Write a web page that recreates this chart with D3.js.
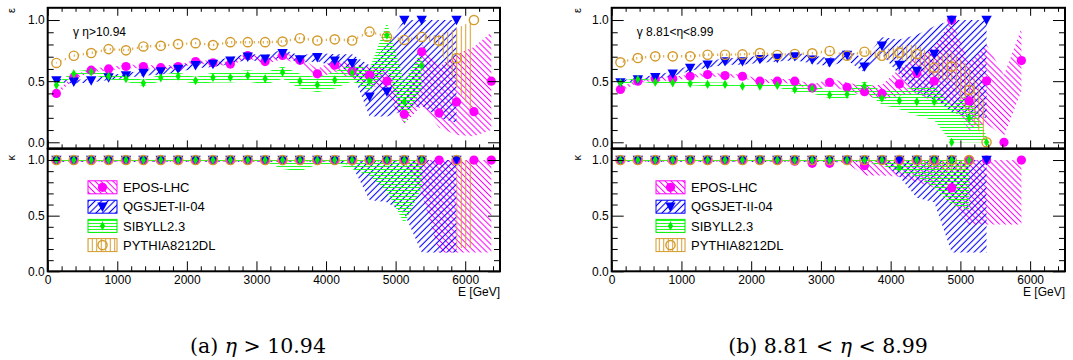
<!DOCTYPE html>
<html><head><meta charset="utf-8">
<script src="https://cdn.jsdelivr.net/npm/d3@7"></script>
<style>
body{margin:0;background:#fff;}
svg{display:block;}
</style>
</head><body>
<svg id="c" width="1073" height="360"></svg>
<script>
// ---------------- DATA ----------------
const energies = [125,375,625,875,1125,1375,1625,1875,2125,2375,2625,2875,3125,3375,3625,3875,4125,4375,4625,4875,5125,5375,5625,5875,6125,6375];
const models = ["EPOS-LHC","QGSJET-II-04","SIBYLL2.3","PYTHIA8212DL"];
const xTickValues = [0,1000,2000,3000,4000,5000,6000];
const xTickLabels = ["0","1000","2000","3000","4000","5000","6000"];
const yTickValues = [0,0.5,1.0];
const yTickLabels = ["0.0","0.5","1.0"];
const kappaTop = 1.0;

// panel (a): eta > 10.94  -- epsilon
const eposA    = [0.40,0.53,0.59,0.60,0.62,0.62,0.61,0.62,0.66,0.65,0.64,0.71,0.66,0.71,0.67,0.56,0.63,0.58,0.55,0.50,0.23,0.74,0.24,0.33,0.25,0.50];
const eposALo  = [0.385,0.515,0.575,0.585,0.605,0.605,0.595,0.605,0.645,0.635,0.625,0.69,0.64,0.68,0.64,0.52,0.58,0.52,0.48,0.40,0.15,0.30,0.12,0.06,0.05,0.10];
const eposAHi  = [0.415,0.545,0.605,0.615,0.635,0.635,0.625,0.635,0.675,0.665,0.655,0.73,0.68,0.73,0.70,0.60,0.68,0.64,0.62,0.60,0.32,0.80,0.62,0.72,0.78,0.90];
const qgsA     = [0.505,0.495,0.505,0.53,0.546,0.568,0.58,0.60,0.63,0.64,0.668,0.70,0.684,0.728,0.678,0.695,0.668,0.646,0.373,0.414,1.0,1.0,null,1.0,null,null];
const qgsALo   = [0.49,0.48,0.49,0.51,0.525,0.545,0.555,0.575,0.605,0.615,0.64,0.675,0.655,0.70,0.65,0.66,0.62,0.58,0.21,0.21,0.26,0.30,0.20,0.16,null,null];
const qgsAHi   = [0.52,0.51,0.52,0.55,0.565,0.59,0.605,0.625,0.655,0.665,0.695,0.725,0.71,0.76,0.71,0.73,0.72,0.72,0.63,0.80,1.0,1.0,1.0,1.0,null,null];
const sibA     = [0.468,0.56,0.576,0.54,0.52,0.484,0.527,0.54,0.505,0.53,0.53,0.546,0.52,0.572,0.501,0.469,0.51,0.569,0.501,0.877,0.332,0.627,null,null,null,null];
const sibALo   = [0.45,0.54,0.555,0.515,0.495,0.46,0.50,0.51,0.475,0.49,0.49,0.50,0.47,0.52,0.44,0.41,0.44,0.50,0.42,0.60,0.15,0.45,null,null,null,null];
const sibAHi   = [0.485,0.58,0.595,0.565,0.545,0.51,0.555,0.57,0.535,0.57,0.575,0.59,0.57,0.62,0.56,0.53,0.58,0.64,0.60,0.98,0.50,0.75,null,null,null,null];
const pytA     = [0.649,0.708,0.73,0.762,0.752,0.784,0.789,0.803,0.811,0.795,0.819,0.819,0.819,0.824,0.851,0.832,0.842,0.832,0.905,0.864,0.837,0.862,0.831,0.688,1.0,null];
const pytALo   = [0.64,0.70,0.72,0.752,0.742,0.774,0.779,0.793,0.801,0.785,0.809,0.809,0.809,0.814,0.841,0.822,0.832,0.822,0.895,0.854,0.827,0.852,0.78,0.45,0.22,null];
const pytAHi   = [0.659,0.718,0.74,0.772,0.762,0.794,0.799,0.813,0.821,0.805,0.829,0.829,0.829,0.834,0.861,0.842,0.852,0.842,0.915,0.874,0.847,0.872,0.88,0.93,1.0,null];
// panel (a) -- kappa
const eposAK   = [1,1,1,1,1,1,1,1,1,1,1,1,1,1,1,1,1,1,1,1,1,1,1,1,1,1];
const eposAKLo = [0.985,0.985,0.985,0.985,0.985,0.985,0.985,0.985,0.985,0.985,0.985,0.985,0.985,0.985,0.985,0.985,0.985,0.985,0.985,0.985,0.985,0.70,0.17,0.17,0.17,0.17];
const qgsAK    = [1,1,1,1,1,1,1,1,1,1,1,1,1,1,1,1,1,1,1,1,1,1,null,1,null,null];
const qgsAKLo  = [0.985,0.985,0.985,0.985,0.985,0.985,0.985,0.985,0.985,0.985,0.985,0.985,0.985,0.985,0.985,0.985,0.985,0.95,0.64,0.62,0.52,0.17,0.17,0.17,null,null];
const sibAK    = [1,1,1,1,1,1,1,1,1,1,1,1,1,1,1,1,1,1,1,1,1,1,null,null,null,null];
const sibAKLo  = [0.985,0.985,0.985,0.985,0.985,0.985,0.985,0.985,0.985,0.985,0.985,0.985,0.985,0.92,0.90,0.96,0.96,0.92,0.86,0.72,0.43,0.75,null,null,null,null];
const pytAK    = [1,1,1,1,1,1,1,1,1,1,1,1,1,1,1,1,1,1,1,1,1,1,null,1,null,null];
const pytAKLo  = [0.99,0.99,0.99,0.99,0.99,0.99,0.99,0.99,0.99,0.99,0.99,0.99,0.99,0.99,0.99,0.99,0.99,0.99,0.99,0.99,0.99,0.99,null,0.21,0.21,null];

// panel (b): 8.81 < eta < 8.99 -- epsilon
const eposB    = [0.432,0.50,0.519,0.519,0.54,0.554,0.546,0.54,0.50,0.50,0.50,0.445,0.49,0.45,0.414,0.40,0.477,0.564,0.501,1.0,0.338,0.501,0.0,0.668];
const eposBLo  = [0.417,0.485,0.504,0.504,0.525,0.539,0.531,0.525,0.485,0.485,0.48,0.42,0.46,0.42,0.38,0.35,0.38,0.40,0.33,0.30,0.10,0.15,0.05,0.42];
const eposBHi  = [0.447,0.515,0.534,0.534,0.555,0.569,0.561,0.555,0.515,0.515,0.52,0.47,0.52,0.49,0.46,0.47,0.60,0.70,0.78,1.0,0.65,0.80,0.55,0.93];
const qgsB     = [0.49,0.514,0.532,0.56,0.608,0.635,0.662,0.662,0.68,0.689,0.703,0.676,0.654,0.714,0.619,0.79,0.632,0.583,0.722,1.0,null,1.0,null,null];
const qgsBLo   = [0.475,0.50,0.515,0.54,0.585,0.61,0.635,0.635,0.65,0.66,0.67,0.645,0.62,0.67,0.57,0.72,0.55,0.40,0.35,0.25,0.20,0.20,null,null];
const qgsBHi   = [0.505,0.53,0.55,0.58,0.63,0.66,0.69,0.69,0.71,0.72,0.735,0.71,0.69,0.76,0.68,0.86,0.84,0.88,0.95,1.0,1.0,1.0,null,null];
const sibB     = [0.486,0.514,0.492,0.486,0.481,0.473,0.473,0.459,0.459,0.465,0.432,0.44,0.387,0.392,0.46,0.36,0.34,0.332,0.332,0.0,0.196,0.0,null,null];
const sibBLo   = [0.47,0.50,0.478,0.472,0.467,0.458,0.458,0.444,0.444,0.45,0.41,0.40,0.36,0.36,0.42,0.31,0.27,0.22,0.18,0.0,0.0,0.0,null,null];
const sibBHi   = [0.50,0.528,0.506,0.50,0.495,0.488,0.488,0.474,0.474,0.48,0.47,0.47,0.42,0.43,0.50,0.42,0.43,0.45,0.46,0.30,0.40,0.05,null,null];
const pytB     = [0.654,0.689,0.703,0.703,0.703,0.716,0.716,0.719,0.73,0.714,0.722,0.728,0.747,0.708,0.741,0.708,0.733,0.722,0.61,0.619,0.428,0.0,null,null];
const pytBLo   = [0.644,0.679,0.693,0.693,0.693,0.706,0.706,0.709,0.72,0.704,0.712,0.718,0.737,0.698,0.731,0.67,0.68,0.64,0.52,0.50,0.20,0.0,null,null];
const pytBHi   = [0.664,0.699,0.713,0.713,0.713,0.726,0.726,0.729,0.74,0.724,0.732,0.738,0.757,0.718,0.751,0.75,0.79,0.80,0.70,0.74,0.62,0.30,null,null];
// panel (b) -- kappa
const eposBK   = [1,1,1,1,1,1,1,1,1,1,0.99,0.97,0.97,1,0.95,1,1,1,1,0.75,1,1,null,1];
const eposBKLo = [0.985,0.985,0.985,0.985,0.985,0.985,0.985,0.985,0.985,0.985,0.985,0.985,0.985,0.97,0.86,0.86,0.85,0.80,0.75,0.60,0.42,0.42,0.42,0.42];
const qgsBK    = [1,1,1,1,1,1,1,1,1,1,1,1,1,1,1,1,1,1,1,1,null,1,null,null];
const qgsBKLo  = [0.985,0.985,0.985,0.985,0.985,0.985,0.985,0.985,0.985,0.985,0.985,0.985,0.985,0.985,0.985,0.985,0.85,0.66,0.62,0.17,0.17,0.17,null,null];
const sibBK    = [1,1,1,1,1,1,1,1,1,1,1,1,1,1,1,1,0.93,1,1,1,1,null,null,null];
const sibBKLo  = [0.985,0.985,0.985,0.985,0.985,0.985,0.985,0.985,0.985,0.985,0.985,0.985,0.985,0.985,0.985,0.95,0.90,0.85,0.75,0.60,0.55,null,null,null];
const pytBK    = [1,1,1,1,1,1,1,1,1,1,1,1,1,1,1,1,1,1,1,1,1,null,null,null];
const pytBKLo  = [0.99,0.99,0.99,0.99,0.99,0.99,0.99,0.99,0.99,0.99,0.99,0.99,0.99,0.99,0.99,0.99,0.99,0.99,0.92,0.90,0.90,null,null,null];

// ---------------- STYLE ----------------
const styles = [
  {color:"#ff00ff", pat:"hEPOS", marker:"circle"},
  {color:"#0000ff", pat:"hQGS",  marker:"tri"},
  {color:"#00ee00", pat:"hSIB",  marker:"diamond"},
  {color:"#d49a2a", pat:"hPYT",  marker:"ocircle"}
];
const SANS = "Liberation Sans";

const svg = d3.select("#c");
const defs = svg.append("defs");
function hatch(id, color, angle, spacing, w){
  const p = defs.append("pattern").attr("id",id).attr("patternUnits","userSpaceOnUse")
    .attr("width",spacing).attr("height",spacing).attr("patternTransform",`rotate(${angle})`);
  p.append("line").attr("x1",spacing/2).attr("x2",spacing/2).attr("y1",-1).attr("y2",spacing+1)
    .attr("stroke",color).attr("stroke-width",w);
}
hatch("hEPOS","#ff00ff",-45,4.2,1);
hatch("hQGS","#0000ff",45,4.6,1.1);
hatch("hSIB","#22ff22",90,3,1);
hatch("hPYT","#d49a2a",0,4.5,1);

function drawMarker(sel, type, color){
  if(type==="circle") sel.append("circle").attr("r",4.6).attr("fill",color);
  else if(type==="tri") sel.append("path").attr("d","M-5.2,-4.2L5.2,-4.2L0,5.2Z").attr("fill",color);
  else if(type==="diamond") sel.append("path").attr("d","M0,-4.6L2.6,0L0,4.6L-2.6,0Z").attr("fill",color);
  else sel.append("circle").attr("r",4.6).attr("fill","none").attr("stroke",color).attr("stroke-width",1.4);
}

const panels = [
  {id:"a", x0:47.7, x1:500, label:"γ η>10.94", labelX:73, legendX:88, titleX:15,
   eps:[[eposA,eposALo,eposAHi],[qgsA,qgsALo,qgsAHi],[sibA,sibALo,sibAHi],[pytA,pytALo,pytAHi]],
   kap:[[eposAK,eposAKLo],[qgsAK,qgsAKLo],[sibAK,sibAKLo],[pytAK,pytAKLo]],
   capX:258, cap:[["(a) ",false],["η",true],[" > 10.94",false]]},
  {id:"b", x0:611.7, x1:1065, label:"γ 8.81<η<8.99", labelX:636.7, legendX:656, titleX:581,
   eps:[[eposB,eposBLo,eposBHi],[qgsB,qgsBLo,qgsBHi],[sibB,sibBLo,sibBHi],[pytB,pytBLo,pytBHi]],
   kap:[[eposBK,eposBKLo],[qgsBK,qgsBKLo],[sibBK,sibBKLo],[pytBK,pytBKLo]],
   capX:828, cap:[["(b) 8.81 < ",false],["η",true],[" < 8.99",false]]}
];

const TOP = [148.4, 7.8], RAT = [271.3, 148.9];

panels.forEach(P => {
  const x = d3.scaleLinear().domain([0,6500]).range([P.x0,P.x1]);
  const yT = d3.scaleLinear().domain([-0.05,1.1]).range(TOP);
  const yR = d3.scaleLinear().domain([0,1.1]).range(RAT);
  const W = P.x1-P.x0;
  defs.append("clipPath").attr("id","ct"+P.id).append("rect")
    .attr("x",P.x0).attr("y",TOP[1]).attr("width",W).attr("height",TOP[0]-TOP[1]);
  defs.append("clipPath").attr("id","cr"+P.id).append("rect")
    .attr("x",P.x0).attr("y",RAT[1]).attr("width",W).attr("height",RAT[0]-RAT[1]);

  const gT = svg.append("g").attr("clip-path",`url(#ct${P.id})`);
  const gR = svg.append("g").attr("clip-path",`url(#cr${P.id})`);

  // bands
  P.eps.forEach((s,k) => {
    const pts = s[0].map((v,i)=>({e:energies[i], v, lo:s[1][i], hi:s[2][i]}));
    const area = d3.area().defined(d=>d.lo!=null && d.hi!=null)
      .x(d=>x(d.e)).y0(d=>yT(d.lo)).y1(d=>yT(d.hi));
    gT.append("path").datum(pts).attr("d",area).attr("fill",`url(#${styles[k].pat})`).attr("stroke","none");
  });
  P.kap.forEach((s,k) => {
    const pts = s[0].map((v,i)=>({e:energies[i], v, lo:s[1][i]}));
    const area = d3.area().defined(d=>d.lo!=null)
      .x(d=>x(d.e)).y0(d=>yR(d.lo)).y1(()=>yR(kappaTop));
    gR.append("path").datum(pts).attr("d",area).attr("fill",`url(#${styles[k].pat})`).attr("stroke","none");
  });
  // markers
  P.eps.forEach((s,k) => {
    s[0].forEach((v,i) => {
      if(v==null) return;
      drawMarker(gT.append("g").attr("transform",`translate(${x(energies[i])},${yT(v)})`), styles[k].marker, styles[k].color);
    });
  });
  P.kap.forEach((s,k) => {
    s[0].forEach((v,i) => {
      if(v==null) return;
      drawMarker(gR.append("g").attr("transform",`translate(${x(energies[i])},${yR(v)})`), styles[k].marker, styles[k].color);
    });
  });

  // axes
  function styleAxis(g){
    g.select(".domain").remove();
    g.selectAll("line").attr("stroke","#000").attr("stroke-width",1);
    g.selectAll("text").attr("font-family",SANS).attr("font-size",12).attr("fill","#000");
  }
  const minorX = d3.range(0,6501,200).filter(v=>v%1000!==0);
  const minorY = d3.range(0,11).map(v=>v/10).filter(v=>v!==0 && v!==0.5 && v!==1);
  const fmt = v => yTickLabels[yTickValues.indexOf(v)];
  const xfmt = v => xTickLabels[xTickValues.indexOf(v)];

  [[yT,TOP],[yR,RAT]].forEach(([ys,R],idx) => {
    svg.append("g").attr("transform",`translate(${P.x0},0)`)
      .call(d3.axisLeft(ys).tickValues(yTickValues).tickFormat(fmt).tickSize(-12).tickPadding(3)).call(styleAxis);
    svg.append("g").attr("transform",`translate(${P.x0},0)`)
      .call(d3.axisLeft(ys).tickValues(minorY).tickFormat("").tickSize(-6)).call(styleAxis);
    svg.append("g").attr("transform",`translate(${P.x1},0)`)
      .call(d3.axisRight(ys).tickValues(yTickValues).tickFormat("").tickSize(-12)).call(styleAxis);
    svg.append("g").attr("transform",`translate(${P.x1},0)`)
      .call(d3.axisRight(ys).tickValues(minorY).tickFormat("").tickSize(-6)).call(styleAxis);
    const maj = idx===0 ? 8 : 10, mn = idx===0 ? 4 : 5;
    svg.append("g").attr("transform",`translate(0,${R[0]})`)
      .call(d3.axisBottom(x).tickValues(xTickValues).tickFormat(idx===1 ? xfmt : "").tickSize(-maj).tickPadding(4)).call(styleAxis);
    svg.append("g").attr("transform",`translate(0,${R[0]})`)
      .call(d3.axisBottom(x).tickValues(minorX).tickFormat("").tickSize(-mn)).call(styleAxis);
    if(idx===0){
      svg.append("g").attr("transform",`translate(0,${R[1]})`)
        .call(d3.axisTop(x).tickValues(xTickValues).tickFormat("").tickSize(-maj)).call(styleAxis);
      svg.append("g").attr("transform",`translate(0,${R[1]})`)
        .call(d3.axisTop(x).tickValues(minorX).tickFormat("").tickSize(-mn)).call(styleAxis);
    }
    svg.append("rect").attr("x",P.x0).attr("y",R[1]).attr("width",W).attr("height",R[0]-R[1])
      .attr("fill","none").attr("stroke","#000").attr("stroke-width",2);
  });

  // axis titles
  svg.append("text").attr("transform",`translate(${P.titleX},8) rotate(-90)`).attr("text-anchor","end")
    .attr("font-family",SANS).attr("font-size",11).text("ε");
  svg.append("text").attr("transform",`translate(${P.titleX},155) rotate(-90)`).attr("text-anchor","end")
    .attr("font-family",SANS).attr("font-size",11).text("κ");
  svg.append("text").attr("x",P.x1).attr("y",296).attr("text-anchor","end")
    .attr("font-family",SANS).attr("font-size",12).text("E [GeV]");
  svg.append("text").attr("x",P.labelX).attr("y",36).attr("font-family",SANS).attr("font-size",12).text(P.label);

  // legend
  const rows = [187.3, 206.7, 225.9, 245.1];
  models.forEach((m,k) => {
    const cy = rows[k];
    svg.append("rect").attr("x",P.legendX).attr("y",cy-6.5).attr("width",29).attr("height",13)
      .attr("fill",`url(#${styles[k].pat})`).attr("stroke",styles[k].color).attr("stroke-width",1);
    drawMarker(svg.append("g").attr("transform",`translate(${P.legendX+14.5},${cy})`), styles[k].marker, styles[k].color);
    svg.append("text").attr("x",P.legendX+35).attr("y",cy+4.6).attr("font-family",SANS).attr("font-size",13).text(m);
  });

  // caption
  const t = svg.append("text").attr("x",P.capX).attr("y",353).attr("text-anchor","middle")
    .attr("font-family","DejaVu Serif").attr("font-size",20.5).attr("xml:space","preserve");
  P.cap.forEach(([s,it]) => t.append("tspan").attr("font-style",it?"italic":"normal").text(s));
});
</script>
</body></html>
